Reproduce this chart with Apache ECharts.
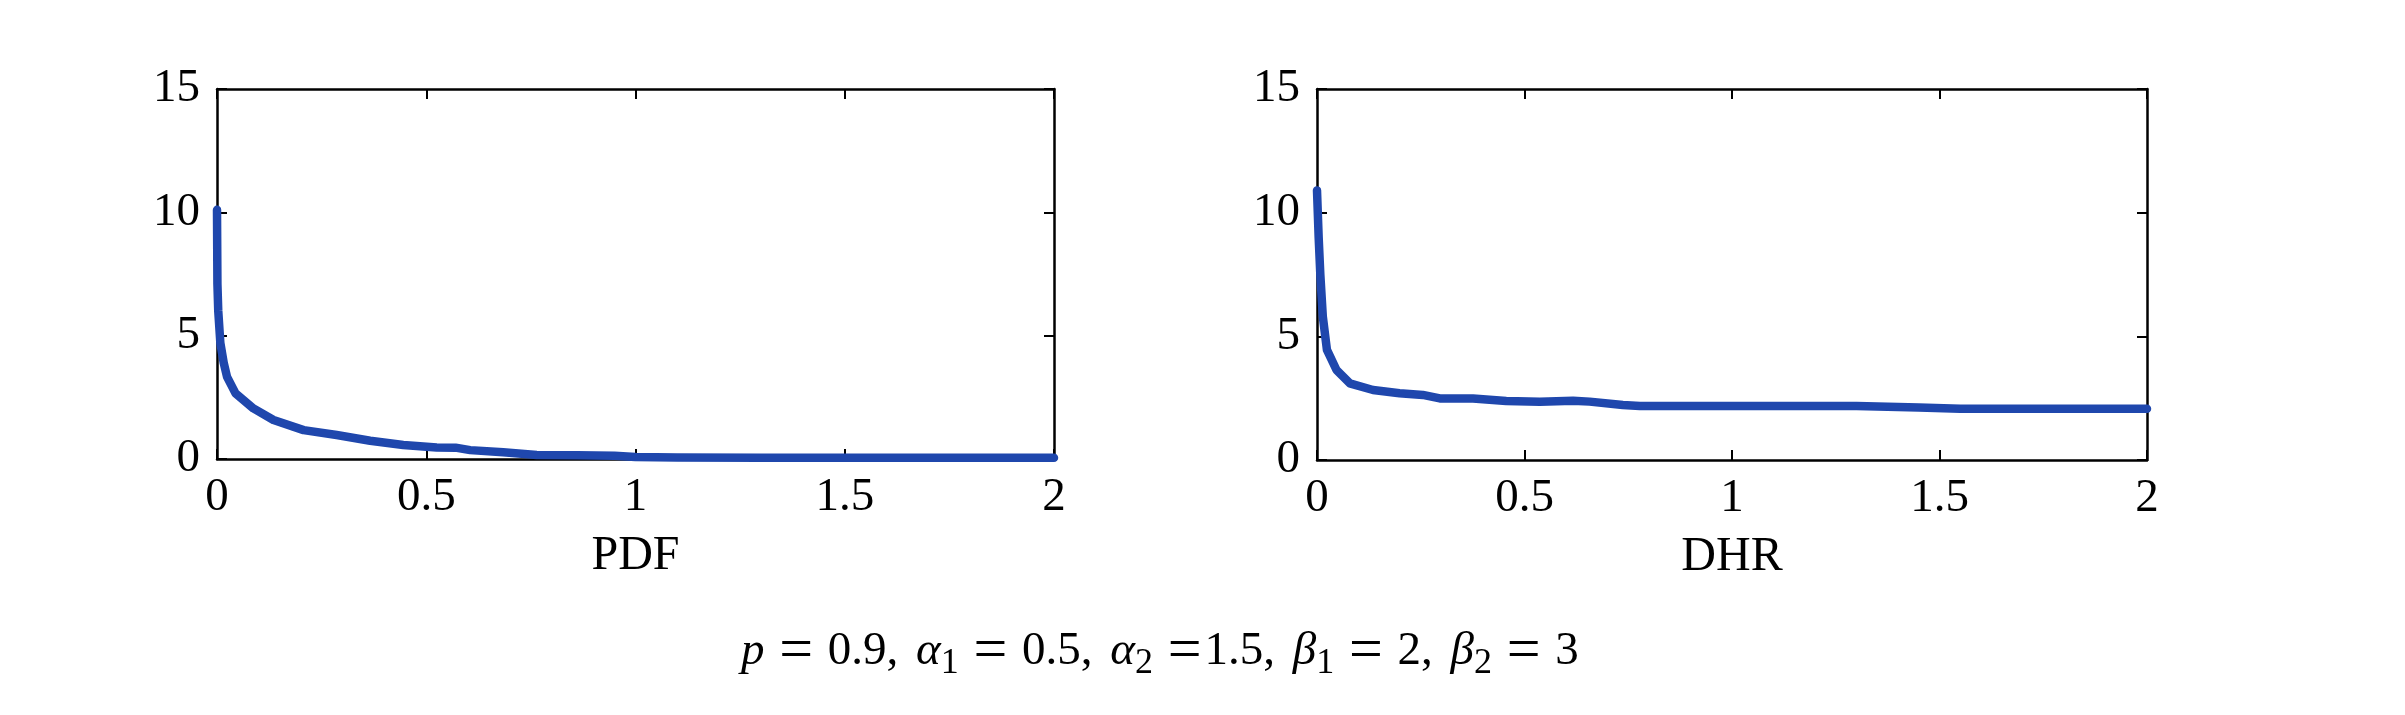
<!DOCTYPE html>
<html>
<head>
<meta charset="utf-8">
<title>PDF / DHR</title>
<script src="https://cdn.jsdelivr.net/npm/echarts@6/dist/echarts.min.js"></script>
<style>
  html, body { margin: 0; padding: 0; background: #fff; }
  #chart { width: 2405px; height: 715px; }
</style>
</head>
<body>
<div id="chart"></div>
<script>
// x ticks, y ticks
const xTicks = [0, 0.5, 1, 1.5, 2]
const yTicks = [0, 5, 10, 15]

// PDF curve (left panel)
const pdfX = [0, 0.001, 0.003, 0.008, 0.016, 0.024, 0.044, 0.087, 0.135, 0.207, 0.286, 0.366, 0.445, 0.525, 0.57, 0.605, 0.684, 0.764, 0.86, 0.95, 1.0, 1.1, 1.3, 1.6, 2.0]
const pdfY = [10.1, 7.1, 6.0, 4.7, 3.9, 3.33, 2.67, 2.05, 1.58, 1.17, 0.97, 0.74, 0.57, 0.47, 0.46, 0.36, 0.27, 0.16, 0.15, 0.13, 0.08, 0.06, 0.05, 0.05, 0.05]

// DHR curve (right panel)
const dhrX = [0, 0.004, 0.008, 0.014, 0.024, 0.047, 0.079, 0.135, 0.199, 0.255, 0.296, 0.376, 0.456, 0.537, 0.617, 0.657, 0.737, 0.778, 1.018, 1.3, 1.45, 1.55, 2.0]
const dhrY = [10.9, 9.0, 7.5, 5.8, 4.45, 3.64, 3.1, 2.83, 2.7, 2.63, 2.49, 2.49, 2.39, 2.36, 2.40, 2.36, 2.22, 2.18, 2.18, 2.18, 2.12, 2.07, 2.07]

const axisNames = ['PDF', 'DHR']
// p = 0.9, α1 = 0.5, α2 =1.5, β1 = 2, β2 = 3
const subtitle = '{i|p} {eq|=} 0.9{c|,} {i|\u03b1}{s|1} {eq|=} 0.5{c|,} {i|\u03b1}{s|2} {eq|=}1.5{c|,} {i|\u03b2}{s|1} {eq|=} 2{c|,} {i|\u03b2}{s|2} {eq|=} 3'

const FONT = '"Liberation Serif", "Times New Roman", serif'
const LINE_COLOR = '#1f47ad'

const pairs = (xs, ys) => xs.map((x, i) => [x, ys[i]])

const chart = echarts.init(document.getElementById('chart'))

const grids = [
  { left: 217, top: 89, width: 837, height: 370 },
  { left: 1317, top: 89, width: 830, height: 371 }
]

// box style frame: labelled bottom/left, bare top/right, ticks inside
const tickStyle = { show: true, inside: true, length: 10, lineStyle: { color: '#000', width: 2 } }
const lineStyle = { color: '#000', width: 2.5 }

const xAxes = []
const yAxes = []
grids.forEach((g, i) => {
  xAxes.push({
    type: 'value', gridIndex: i, position: 'bottom',
    min: xTicks[0], max: xTicks[xTicks.length - 1], interval: 0.5,
    name: axisNames[i], nameLocation: 'middle', nameGap: 73,
    nameTextStyle: { fontFamily: FONT, fontSize: 48, color: '#000' },
    axisLine: { show: true, onZero: false, lineStyle },
    axisTick: tickStyle,
    axisLabel: { fontFamily: FONT, fontSize: 47, color: '#000', margin: 15 },
    splitLine: { show: false }
  })
  xAxes.push({
    type: 'value', gridIndex: i, position: 'top',
    min: xTicks[0], max: xTicks[xTicks.length - 1], interval: 0.5,
    axisLine: { show: true, onZero: false, lineStyle },
    axisTick: tickStyle,
    axisLabel: { show: false },
    splitLine: { show: false }
  })
  yAxes.push({
    type: 'value', gridIndex: i, position: 'left',
    min: yTicks[0], max: yTicks[yTicks.length - 1], interval: 5,
    axisLine: { show: true, onZero: false, lineStyle },
    axisTick: tickStyle,
    axisLabel: { fontFamily: FONT, fontSize: 47, color: '#000', margin: 17 },
    splitLine: { show: false }
  })
  yAxes.push({
    type: 'value', gridIndex: i, position: 'right',
    min: yTicks[0], max: yTicks[yTicks.length - 1], interval: 5,
    axisLine: { show: true, onZero: false, lineStyle },
    axisTick: tickStyle,
    axisLabel: { show: false },
    splitLine: { show: false }
  })
})

chart.setOption({
  animation: false,
  grid: grids,
  xAxis: xAxes,
  yAxis: yAxes,
  series: [
    {
      name: 'PDF', type: 'line', xAxisIndex: 0, yAxisIndex: 0,
      data: pairs(pdfX, pdfY), showSymbol: false, smooth: false,
      lineStyle: { color: LINE_COLOR, width: 8.5, join: 'round', cap: 'round' }
    },
    {
      name: 'DHR', type: 'line', xAxisIndex: 2, yAxisIndex: 2,
      data: pairs(dhrX, dhrY), showSymbol: false, smooth: false,
      lineStyle: { color: LINE_COLOR, width: 8.5, join: 'round', cap: 'round' }
    }
  ],
  graphic: [{
    type: 'text', left: 741, top: 622,
    style: {
      text: subtitle,
      fontFamily: FONT, fontSize: 47, fill: '#000',
      rich: {
        i: { fontFamily: FONT, fontSize: 47, fontStyle: 'italic', fill: '#000' },
        s: { fontFamily: FONT, fontSize: 36, fill: '#000', verticalAlign: 'bottom', lineHeight: 60 },
        eq: { fontFamily: FONT, fontSize: 60, fill: '#000', padding: [0, 3, 0, 3] },
        c: { fontFamily: FONT, fontSize: 47, fill: '#000', padding: [0, 6, 0, 0] }
      }
    }
  }]
})
</script>
</body>
</html>
